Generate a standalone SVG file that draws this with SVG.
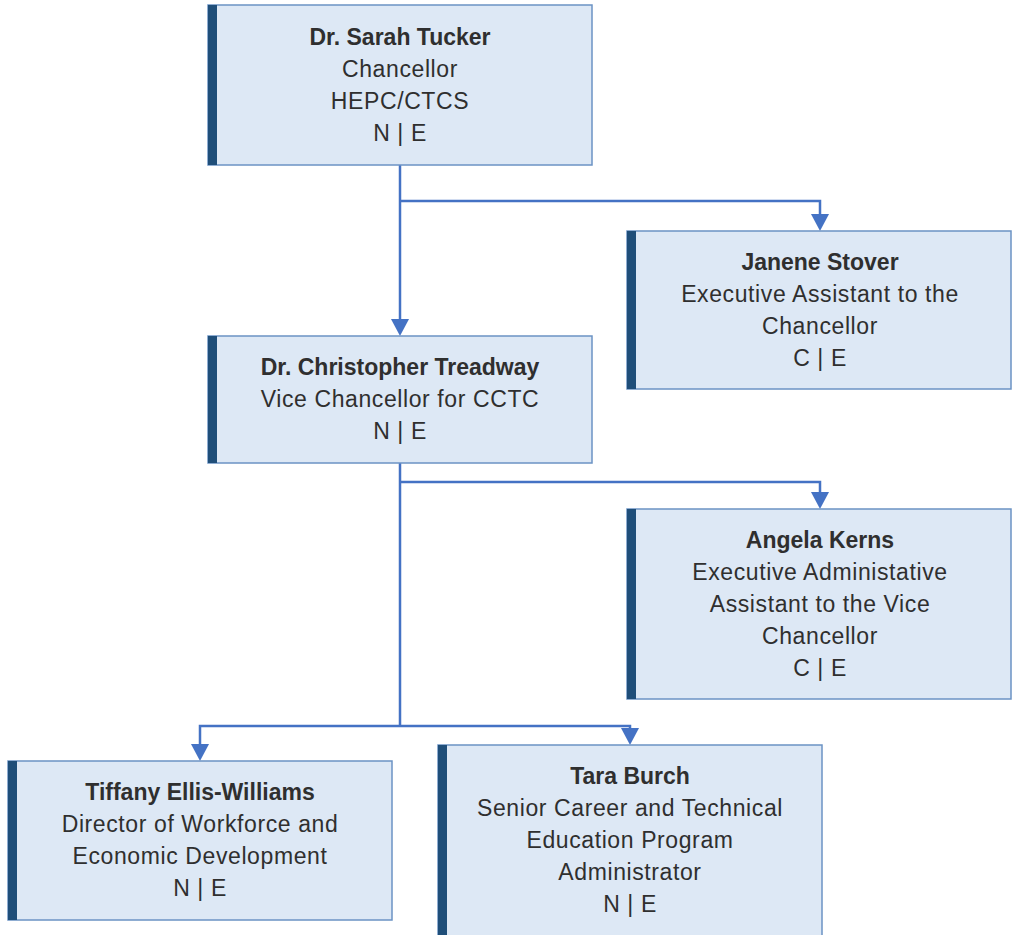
<svg xmlns="http://www.w3.org/2000/svg" width="1019" height="935" viewBox="0 0 1019 935">
<defs>
<style>
.box{fill:#DDE8F5;stroke:#6B93C4;stroke-width:1.5}
.bar{fill:#1F4E79}
.t{font-family:"Liberation Sans",Arial,sans-serif;font-size:23px;letter-spacing:0.6px;fill:#2f2f2f;text-anchor:middle}
.b{font-weight:bold;letter-spacing:0}
.c{fill:none;stroke:#4472C4;stroke-width:2.5}
.ah{fill:#4472C4}
</style>
</defs>
<rect width="1019" height="935" fill="#ffffff"/>
<g id="connectors">
<path class="c" d="M400,165 V320"/>
<polygon class="ah" points="391,319 409,319 400,336"/>
<path class="c" d="M400,201 H820 V215"/>
<polygon class="ah" points="811,214 829,214 820,231"/>
<path class="c" d="M400,463 V726"/>
<path class="c" d="M400,482 H820 V493"/>
<polygon class="ah" points="811,492 829,492 820,509"/>
<path class="c" d="M200,745 V726 H630 V729"/>
<polygon class="ah" points="191,744 209,744 200,761"/>
<polygon class="ah" points="621,728 639,728 630,745"/>
</g>
<g id="node-tucker">
<rect class="box" x="208" y="5" width="384" height="160"/>
<rect class="bar" x="208" y="5" width="9" height="160"/>
<text class="t b" x="400" y="45">Dr. Sarah Tucker</text>
<text class="t" x="400" y="77">Chancellor</text>
<text class="t" x="400" y="109">HEPC/CTCS</text>
<text class="t" x="400" y="141">N | E</text>
</g>
<g id="node-stover">
<rect class="box" x="627" y="231" width="384" height="158"/>
<rect class="bar" x="627" y="231" width="9" height="158"/>
<text class="t b" x="820" y="270">Janene Stover</text>
<text class="t" x="820" y="302">Executive Assistant to the</text>
<text class="t" x="820" y="334">Chancellor</text>
<text class="t" x="820" y="366">C | E</text>
</g>
<g id="node-treadway">
<rect class="box" x="208" y="336" width="384" height="127"/>
<rect class="bar" x="208" y="336" width="9" height="127"/>
<text class="t b" x="400" y="375">Dr. Christopher Treadway</text>
<text class="t" x="400" y="407">Vice Chancellor for CCTC</text>
<text class="t" x="400" y="439">N | E</text>
</g>
<g id="node-kerns">
<rect class="box" x="627" y="509" width="384" height="190"/>
<rect class="bar" x="627" y="509" width="9" height="190"/>
<text class="t b" x="820" y="548">Angela Kerns</text>
<text class="t" x="820" y="580">Executive Administative</text>
<text class="t" x="820" y="612">Assistant to the Vice</text>
<text class="t" x="820" y="644">Chancellor</text>
<text class="t" x="820" y="676">C | E</text>
</g>
<g id="node-ellis-williams">
<rect class="box" x="8" y="761" width="384" height="159"/>
<rect class="bar" x="8" y="761" width="9" height="159"/>
<text class="t b" x="200" y="800">Tiffany Ellis-Williams</text>
<text class="t" x="200" y="832">Director of Workforce and</text>
<text class="t" x="200" y="864">Economic Development</text>
<text class="t" x="200" y="896">N | E</text>
</g>
<g id="node-burch">
<rect class="box" x="438" y="745" width="384" height="200"/>
<rect class="bar" x="438" y="745" width="9" height="200"/>
<text class="t b" x="630" y="784">Tara Burch</text>
<text class="t" x="630" y="816">Senior Career and Technical</text>
<text class="t" x="630" y="848">Education Program</text>
<text class="t" x="630" y="880">Administrator</text>
<text class="t" x="630" y="912">N | E</text>
</g>
</svg>
